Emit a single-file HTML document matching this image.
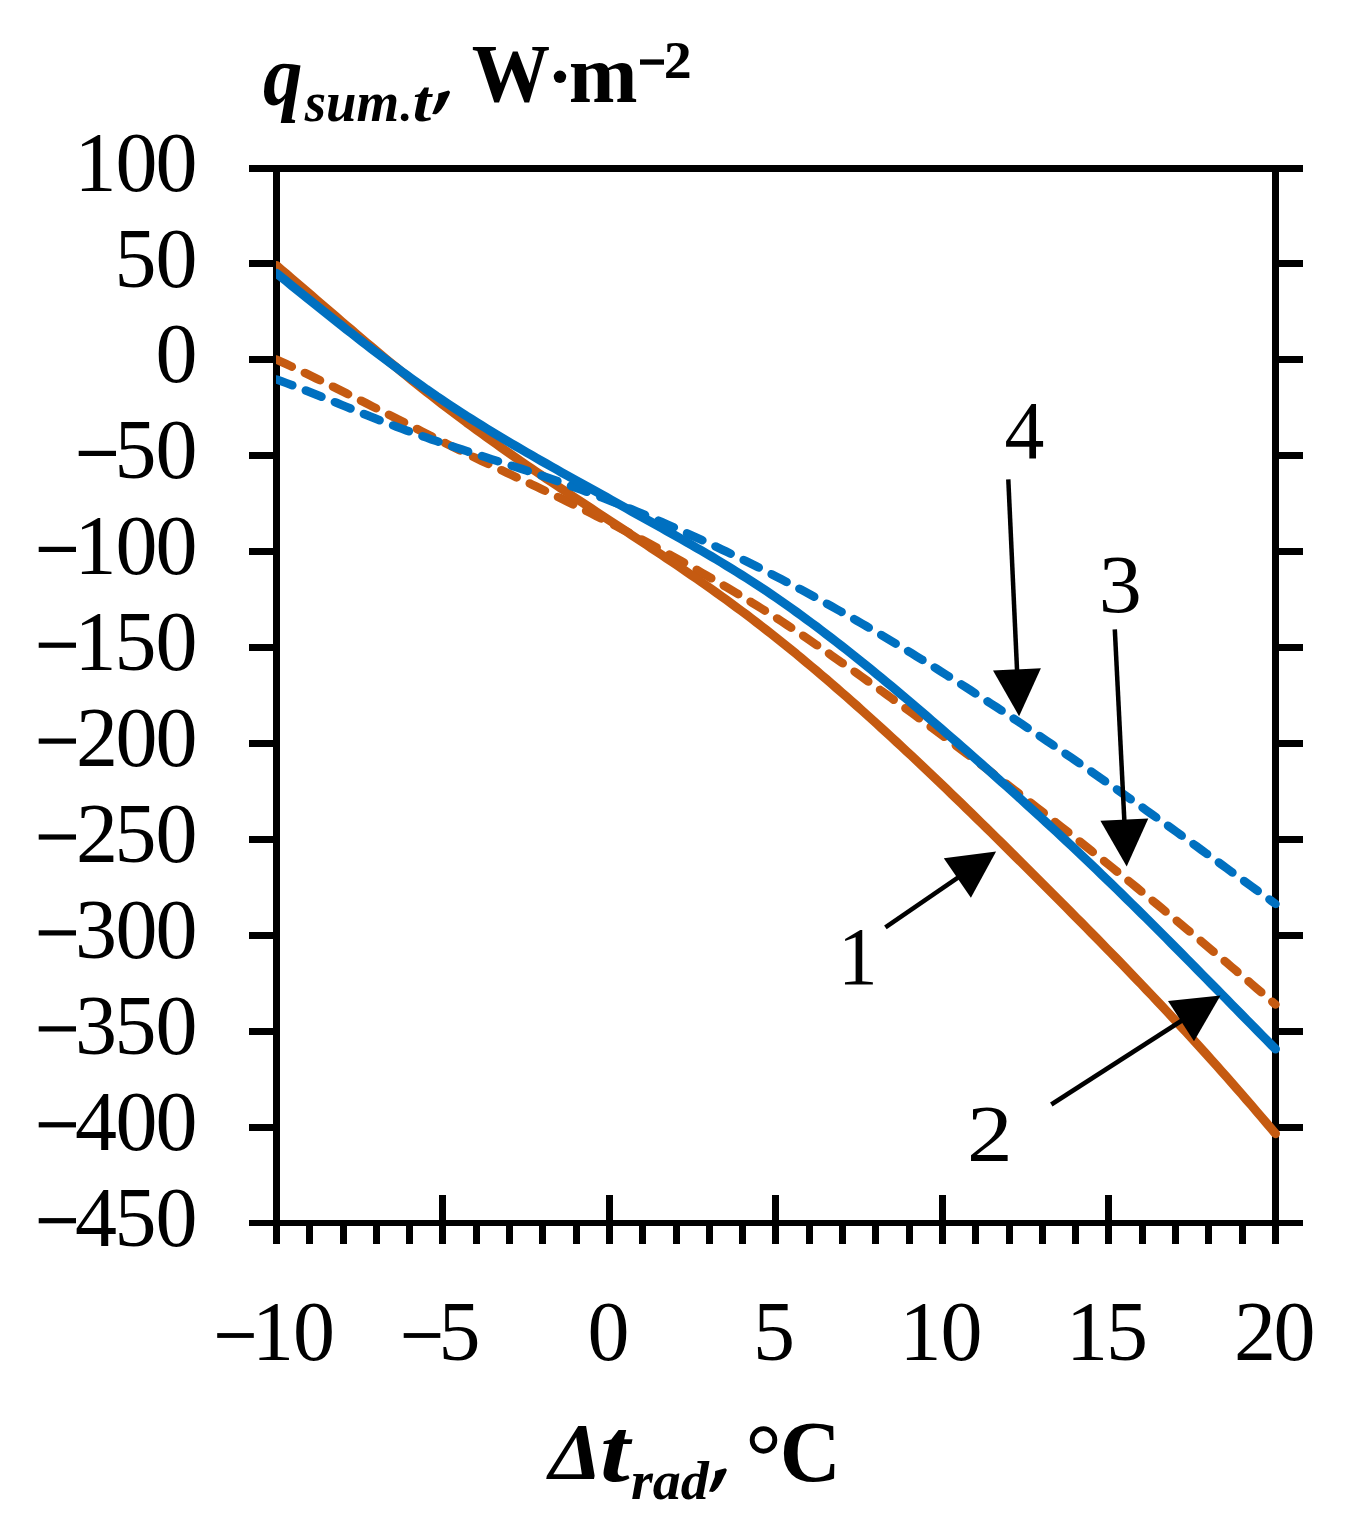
<!DOCTYPE html><html><head><meta charset="utf-8"><style>html,body{margin:0;padding:0;background:#fff;width:1349px;height:1518px;overflow:hidden}svg{display:block}text{font-family:"Liberation Serif",serif}</style></head><body>
<svg width="1349" height="1518" viewBox="0 0 1349 1518">
<rect width="1349" height="1518" fill="#fff"/>
<defs><clipPath id="pc"><rect x="276" y="100" width="1020" height="1200"/></clipPath></defs>
<g fill="#000">
<rect x="273" y="165" width="7" height="1079"/>
<rect x="1272" y="165" width="7" height="1079"/>
<rect x="249" y="165" width="1054" height="7"/>
<rect x="249" y="1220" width="1054" height="6"/>
<rect x="249" y="260" width="24" height="7"/>
<rect x="1279" y="260" width="24" height="7"/>
<rect x="249" y="356" width="24" height="7"/>
<rect x="1279" y="356" width="24" height="7"/>
<rect x="249" y="452" width="24" height="7"/>
<rect x="1279" y="452" width="24" height="7"/>
<rect x="249" y="548" width="24" height="7"/>
<rect x="1279" y="548" width="24" height="7"/>
<rect x="249" y="644" width="24" height="7"/>
<rect x="1279" y="644" width="24" height="7"/>
<rect x="249" y="740" width="24" height="7"/>
<rect x="1279" y="740" width="24" height="7"/>
<rect x="249" y="836" width="24" height="7"/>
<rect x="1279" y="836" width="24" height="7"/>
<rect x="249" y="932" width="24" height="7"/>
<rect x="1279" y="932" width="24" height="7"/>
<rect x="249" y="1028" width="24" height="7"/>
<rect x="1279" y="1028" width="24" height="7"/>
<rect x="249" y="1124" width="24" height="7"/>
<rect x="1279" y="1124" width="24" height="7"/>
<rect x="306" y="1226" width="7" height="18"/>
<rect x="340" y="1226" width="7" height="18"/>
<rect x="373" y="1226" width="7" height="18"/>
<rect x="406" y="1226" width="7" height="18"/>
<rect x="439" y="1195" width="7" height="49"/>
<rect x="473" y="1226" width="7" height="18"/>
<rect x="506" y="1226" width="7" height="18"/>
<rect x="539" y="1226" width="7" height="18"/>
<rect x="573" y="1226" width="7" height="18"/>
<rect x="606" y="1195" width="7" height="49"/>
<rect x="639" y="1226" width="7" height="18"/>
<rect x="673" y="1226" width="7" height="18"/>
<rect x="706" y="1226" width="7" height="18"/>
<rect x="739" y="1226" width="7" height="18"/>
<rect x="772" y="1195" width="7" height="49"/>
<rect x="806" y="1226" width="7" height="18"/>
<rect x="839" y="1226" width="7" height="18"/>
<rect x="872" y="1226" width="7" height="18"/>
<rect x="906" y="1226" width="7" height="18"/>
<rect x="939" y="1195" width="7" height="49"/>
<rect x="972" y="1226" width="7" height="18"/>
<rect x="1006" y="1226" width="7" height="18"/>
<rect x="1039" y="1226" width="7" height="18"/>
<rect x="1072" y="1226" width="7" height="18"/>
<rect x="1105" y="1195" width="7" height="49"/>
<rect x="1139" y="1226" width="7" height="18"/>
<rect x="1172" y="1226" width="7" height="18"/>
<rect x="1205" y="1226" width="7" height="18"/>
<rect x="1239" y="1226" width="7" height="18"/>
</g>
<g clip-path="url(#pc)" fill="none" stroke-width="8.5" stroke-linecap="round" stroke-linejoin="round">
<polyline points="276.5,359.5 281.5,361.8 286.5,364.2 291.5,366.5 296.5,368.9 301.5,371.3 306.5,373.7 311.5,376.1 316.5,378.6 321.5,381.0 326.5,383.5 331.5,385.9 336.5,388.4 341.5,390.9 346.5,393.4 351.5,395.9 356.5,398.4 361.5,400.9 366.5,403.4 371.5,406.0 376.5,408.5 381.5,411.0 386.5,413.5 391.5,416.1 396.5,418.6 401.5,421.1 406.5,423.6 411.5,426.2 416.5,428.7 421.5,431.2 426.5,433.7 431.5,436.2 436.5,438.7 441.5,441.2 446.5,443.7 451.5,446.2 456.5,448.7 461.5,451.1 466.5,453.5 471.5,456.0 476.5,458.4 481.5,460.8 486.5,463.1 491.5,465.5 496.5,467.9 501.5,470.2 506.5,472.6 511.5,474.9 516.5,477.3 521.5,479.6 526.5,482.0 531.5,484.3 536.5,486.7 541.5,489.1 546.5,491.5 551.5,493.9 556.5,496.3 561.5,498.7 566.5,501.2 571.5,503.6 576.5,506.1 581.5,508.6 586.5,511.0 591.5,513.6 596.5,516.1 601.5,518.6 606.5,521.2 611.5,523.7 616.5,526.3 621.5,528.9 626.5,531.5 631.5,534.1 636.5,536.8 641.5,539.4 646.5,542.1 651.5,544.8 656.5,547.5 661.5,550.2 666.5,552.9 671.5,555.7 676.5,558.5 681.5,561.3 686.5,564.1 691.5,566.9 696.5,569.7 701.5,572.6 706.5,575.5 711.5,578.4 716.5,581.3 721.5,584.2 726.5,587.2 731.5,590.2 736.5,593.1 741.5,596.2 746.5,599.2 751.5,602.3 756.5,605.4 761.5,608.5 766.5,611.6 771.5,614.8 776.5,618.0 781.5,621.3 786.5,624.6 791.5,627.9 796.5,631.3 801.5,634.6 806.5,638.1 811.5,641.5 816.5,644.9 821.5,648.4 826.5,651.9 831.5,655.4 836.5,658.9 841.5,662.4 846.5,666.0 851.5,669.5 856.5,673.0 861.5,676.6 866.5,680.2 871.5,683.7 876.5,687.3 881.5,690.9 886.5,694.5 891.5,698.1 896.5,701.8 901.5,705.4 906.5,709.0 911.5,712.7 916.5,716.4 921.5,720.0 926.5,723.7 931.5,727.4 936.5,731.1 941.5,734.8 946.5,738.6 951.5,742.3 956.5,746.0 961.5,749.8 966.5,753.6 971.5,757.3 976.5,761.1 981.5,764.9 986.5,768.7 991.5,772.5 996.5,776.4 1001.5,780.2 1006.5,784.0 1011.5,787.9 1016.5,791.7 1021.5,795.6 1026.5,799.5 1031.5,803.4 1036.5,807.3 1041.5,811.2 1046.5,815.1 1051.5,819.1 1056.5,823.0 1061.5,827.0 1066.5,830.9 1071.5,834.9 1076.5,838.9 1081.5,842.9 1086.5,846.9 1091.5,850.9 1096.5,854.9 1101.5,858.9 1106.5,863.0 1111.5,867.0 1116.5,871.1 1121.5,875.2 1126.5,879.3 1131.5,883.3 1136.5,887.4 1141.5,891.6 1146.5,895.7 1151.5,899.8 1156.5,903.9 1161.5,908.1 1166.5,912.2 1171.5,916.4 1176.5,920.5 1181.5,924.7 1186.5,928.9 1191.5,933.1 1196.5,937.3 1201.5,941.5 1206.5,945.7 1211.5,949.9 1216.5,954.1 1221.5,958.4 1226.5,962.6 1231.5,966.9 1236.5,971.1 1241.5,975.4 1246.5,979.6 1251.5,983.9 1256.5,988.2 1261.5,992.5 1266.5,996.8 1271.5,1001.1 1275.5,1004.5" stroke="#C55A11" stroke-dasharray="16.9 14.43"/>
<polyline points="276.5,265.5 281.5,269.8 286.5,274.0 291.5,278.3 296.5,282.6 301.5,286.9 306.5,291.2 311.5,295.5 316.5,299.8 321.5,304.1 326.5,308.4 331.5,312.7 336.5,317.0 341.5,321.3 346.5,325.6 351.5,329.8 356.5,334.1 361.5,338.4 366.5,342.6 371.5,346.8 376.5,351.0 381.5,355.2 386.5,359.4 391.5,363.5 396.5,367.6 401.5,371.7 406.5,375.8 411.5,379.9 416.5,383.9 421.5,387.9 426.5,391.9 431.5,395.8 436.5,399.7 441.5,403.6 446.5,407.4 451.5,411.2 456.5,415.0 461.5,418.7 466.5,422.5 471.5,426.1 476.5,429.8 481.5,433.4 486.5,437.0 491.5,440.6 496.5,444.2 501.5,447.7 506.5,451.2 511.5,454.7 516.5,458.2 521.5,461.6 526.5,465.1 531.5,468.5 536.5,471.9 541.5,475.3 546.5,478.7 551.5,482.0 556.5,485.4 561.5,488.7 566.5,492.0 571.5,495.4 576.5,498.7 581.5,502.0 586.5,505.3 591.5,508.6 596.5,511.9 601.5,515.2 606.5,518.5 611.5,521.7 616.5,525.0 621.5,528.3 626.5,531.6 631.5,534.9 636.5,538.2 641.5,541.5 646.5,544.8 651.5,548.2 656.5,551.5 661.5,554.8 666.5,558.2 671.5,561.5 676.5,564.9 681.5,568.3 686.5,571.8 691.5,575.2 696.5,578.6 701.5,582.1 706.5,585.6 711.5,589.2 716.5,592.7 721.5,596.3 726.5,599.9 731.5,603.6 736.5,607.3 741.5,611.0 746.5,614.7 751.5,618.5 756.5,622.3 761.5,626.2 766.5,630.1 771.5,634.0 776.5,638.0 781.5,642.0 786.5,646.0 791.5,650.1 796.5,654.1 801.5,658.3 806.5,662.4 811.5,666.6 816.5,670.8 821.5,675.1 826.5,679.3 831.5,683.6 836.5,688.0 841.5,692.3 846.5,696.7 851.5,701.1 856.5,705.5 861.5,710.0 866.5,714.5 871.5,719.0 876.5,723.5 881.5,728.1 886.5,732.6 891.5,737.2 896.5,741.9 901.5,746.5 906.5,751.2 911.5,755.8 916.5,760.5 921.5,765.3 926.5,770.0 931.5,774.7 936.5,779.5 941.5,784.3 946.5,789.1 951.5,793.9 956.5,798.8 961.5,803.6 966.5,808.5 971.5,813.3 976.5,818.2 981.5,823.1 986.5,828.0 991.5,832.9 996.5,837.9 1001.5,842.8 1006.5,847.8 1011.5,852.7 1016.5,857.7 1021.5,862.6 1026.5,867.6 1031.5,872.6 1036.5,877.6 1041.5,882.6 1046.5,887.6 1051.5,892.6 1056.5,897.6 1061.5,902.6 1066.5,907.7 1071.5,912.7 1076.5,917.8 1081.5,922.8 1086.5,927.9 1091.5,933.0 1096.5,938.0 1101.5,943.2 1106.5,948.3 1111.5,953.4 1116.5,958.5 1121.5,963.7 1126.5,968.9 1131.5,974.1 1136.5,979.3 1141.5,984.5 1146.5,989.8 1151.5,995.0 1156.5,1000.3 1161.5,1005.6 1166.5,1011.0 1171.5,1016.3 1176.5,1021.7 1181.5,1027.1 1186.5,1032.5 1191.5,1037.9 1196.5,1043.4 1201.5,1048.9 1206.5,1054.4 1211.5,1060.0 1216.5,1065.6 1221.5,1071.2 1226.5,1076.8 1231.5,1082.5 1236.5,1088.2 1241.5,1093.9 1246.5,1099.7 1251.5,1105.4 1256.5,1111.3 1261.5,1117.1 1266.5,1123.0 1271.5,1128.9 1275.5,1133.7" stroke="#C55A11" stroke-width="9.0"/>
<polyline points="276.5,379.4 281.5,381.2 286.5,383.1 291.5,385.0 296.5,386.9 301.5,388.8 306.5,390.8 311.5,392.8 316.5,394.8 321.5,396.8 326.5,398.8 331.5,400.8 336.5,402.8 341.5,404.9 346.5,406.9 351.5,408.9 356.5,411.0 361.5,413.0 366.5,415.0 371.5,417.0 376.5,419.0 381.5,421.0 386.5,422.9 391.5,424.8 396.5,426.7 401.5,428.6 406.5,430.5 411.5,432.3 416.5,434.1 421.5,435.9 426.5,437.6 431.5,439.4 436.5,441.1 441.5,442.8 446.5,444.5 451.5,446.1 456.5,447.8 461.5,449.4 466.5,451.1 471.5,452.7 476.5,454.3 481.5,455.9 486.5,457.5 491.5,459.2 496.5,460.8 501.5,462.4 506.5,464.0 511.5,465.6 516.5,467.3 521.5,468.9 526.5,470.6 531.5,472.2 536.5,473.9 541.5,475.6 546.5,477.3 551.5,479.0 556.5,480.8 561.5,482.6 566.5,484.3 571.5,486.2 576.5,488.0 581.5,489.8 586.5,491.7 591.5,493.6 596.5,495.5 601.5,497.4 606.5,499.3 611.5,501.3 616.5,503.3 621.5,505.3 626.5,507.3 631.5,509.3 636.5,511.4 641.5,513.5 646.5,515.6 651.5,517.7 656.5,519.8 661.5,522.0 666.5,524.1 671.5,526.3 676.5,528.5 681.5,530.8 686.5,533.0 691.5,535.3 696.5,537.6 701.5,539.9 706.5,542.2 711.5,544.5 716.5,546.9 721.5,549.3 726.5,551.7 731.5,554.1 736.5,556.5 741.5,559.0 746.5,561.4 751.5,563.9 756.5,566.4 761.5,569.0 766.5,571.5 771.5,574.1 776.5,576.7 781.5,579.3 786.5,581.9 791.5,584.5 796.5,587.2 801.5,589.8 806.5,592.5 811.5,595.3 816.5,598.0 821.5,600.7 826.5,603.5 831.5,606.3 836.5,609.1 841.5,611.9 846.5,614.8 851.5,617.6 856.5,620.5 861.5,623.4 866.5,626.3 871.5,629.2 876.5,632.1 881.5,635.1 886.5,638.1 891.5,641.1 896.5,644.1 901.5,647.1 906.5,650.1 911.5,653.2 916.5,656.3 921.5,659.3 926.5,662.4 931.5,665.5 936.5,668.7 941.5,671.8 946.5,675.0 951.5,678.1 956.5,681.3 961.5,684.5 966.5,687.7 971.5,690.9 976.5,694.2 981.5,697.4 986.5,700.7 991.5,704.0 996.5,707.2 1001.5,710.5 1006.5,713.8 1011.5,717.2 1016.5,720.5 1021.5,723.8 1026.5,727.2 1031.5,730.5 1036.5,733.9 1041.5,737.3 1046.5,740.7 1051.5,744.1 1056.5,747.5 1061.5,750.9 1066.5,754.4 1071.5,757.8 1076.5,761.3 1081.5,764.7 1086.5,768.2 1091.5,771.7 1096.5,775.2 1101.5,778.7 1106.5,782.2 1111.5,785.7 1116.5,789.2 1121.5,792.7 1126.5,796.2 1131.5,799.8 1136.5,803.3 1141.5,806.9 1146.5,810.4 1151.5,814.0 1156.5,817.6 1161.5,821.2 1166.5,824.7 1171.5,828.3 1176.5,831.9 1181.5,835.5 1186.5,839.1 1191.5,842.7 1196.5,846.3 1201.5,850.0 1206.5,853.6 1211.5,857.2 1216.5,860.8 1221.5,864.5 1226.5,868.1 1231.5,871.8 1236.5,875.4 1241.5,879.1 1246.5,882.7 1251.5,886.4 1256.5,890.0 1261.5,893.7 1266.5,897.3 1271.5,901.0 1275.5,903.9" stroke="#0070C0" stroke-dasharray="16.9 14.43"/>
<polyline points="276.5,273.3 281.5,277.3 286.5,281.3 291.5,285.4 296.5,289.4 301.5,293.4 306.5,297.5 311.5,301.5 316.5,305.5 321.5,309.5 326.5,313.5 331.5,317.5 336.5,321.5 341.5,325.4 346.5,329.4 351.5,333.3 356.5,337.2 361.5,341.1 366.5,345.0 371.5,348.8 376.5,352.6 381.5,356.4 386.5,360.2 391.5,364.0 396.5,367.7 401.5,371.4 406.5,375.0 411.5,378.6 416.5,382.2 421.5,385.7 426.5,389.3 431.5,392.7 436.5,396.2 441.5,399.5 446.5,402.9 451.5,406.2 456.5,409.5 461.5,412.7 466.5,416.0 471.5,419.1 476.5,422.3 481.5,425.4 486.5,428.5 491.5,431.6 496.5,434.6 501.5,437.6 506.5,440.6 511.5,443.6 516.5,446.5 521.5,449.4 526.5,452.3 531.5,455.2 536.5,458.1 541.5,461.0 546.5,463.8 551.5,466.6 556.5,469.4 561.5,472.3 566.5,475.1 571.5,477.9 576.5,480.6 581.5,483.4 586.5,486.2 591.5,489.0 596.5,491.8 601.5,494.5 606.5,497.3 611.5,500.1 616.5,502.9 621.5,505.6 626.5,508.4 631.5,511.2 636.5,514.0 641.5,516.7 646.5,519.5 651.5,522.3 656.5,525.1 661.5,527.9 666.5,530.7 671.5,533.5 676.5,536.3 681.5,539.2 686.5,542.0 691.5,544.9 696.5,547.8 701.5,550.7 706.5,553.6 711.5,556.5 716.5,559.5 721.5,562.5 726.5,565.6 731.5,568.6 736.5,571.7 741.5,574.9 746.5,578.0 751.5,581.2 756.5,584.5 761.5,587.8 766.5,591.1 771.5,594.5 776.5,597.9 781.5,601.4 786.5,604.9 791.5,608.4 796.5,612.0 801.5,615.6 806.5,619.3 811.5,623.0 816.5,626.7 821.5,630.5 826.5,634.3 831.5,638.1 836.5,642.0 841.5,645.9 846.5,649.8 851.5,653.7 856.5,657.7 861.5,661.7 866.5,665.8 871.5,669.8 876.5,673.9 881.5,678.0 886.5,682.2 891.5,686.3 896.5,690.5 901.5,694.7 906.5,698.9 911.5,703.2 916.5,707.4 921.5,711.7 926.5,716.0 931.5,720.3 936.5,724.6 941.5,728.9 946.5,733.3 951.5,737.6 956.5,742.0 961.5,746.4 966.5,750.7 971.5,755.1 976.5,759.6 981.5,764.0 986.5,768.4 991.5,772.8 996.5,777.3 1001.5,781.8 1006.5,786.2 1011.5,790.7 1016.5,795.2 1021.5,799.8 1026.5,804.3 1031.5,808.8 1036.5,813.4 1041.5,818.0 1046.5,822.6 1051.5,827.2 1056.5,831.8 1061.5,836.5 1066.5,841.1 1071.5,845.8 1076.5,850.5 1081.5,855.3 1086.5,860.0 1091.5,864.8 1096.5,869.6 1101.5,874.4 1106.5,879.2 1111.5,884.0 1116.5,888.9 1121.5,893.8 1126.5,898.7 1131.5,903.6 1136.5,908.5 1141.5,913.5 1146.5,918.4 1151.5,923.4 1156.5,928.4 1161.5,933.4 1166.5,938.4 1171.5,943.5 1176.5,948.5 1181.5,953.5 1186.5,958.6 1191.5,963.7 1196.5,968.7 1201.5,973.8 1206.5,978.9 1211.5,984.0 1216.5,989.0 1221.5,994.1 1226.5,999.2 1231.5,1004.3 1236.5,1009.4 1241.5,1014.5 1246.5,1019.6 1251.5,1024.7 1256.5,1029.7 1261.5,1034.8 1266.5,1039.9 1271.5,1045.0 1275.5,1049.0" stroke="#0070C0" stroke-width="9.0"/>
</g>
<line x1="1008.3" y1="479.3" x2="1017.1" y2="671.3" stroke="#000" stroke-width="4.5"/>
<polygon points="1019.1,716.3 993.0,670.4 1040.9,668.3" fill="#000"/>
<line x1="1114.8" y1="629.3" x2="1124.4" y2="821.6" stroke="#000" stroke-width="4.5"/>
<polygon points="1126.7,866.5 1100.4,820.8 1148.3,818.4" fill="#000"/>
<line x1="885.4" y1="927.4" x2="959.0" y2="876.9" stroke="#000" stroke-width="4.5"/>
<polygon points="996.1,851.4 970.9,897.8 943.8,858.2" fill="#000"/>
<line x1="1051.3" y1="1104.5" x2="1182.7" y2="1020.0" stroke="#000" stroke-width="4.5"/>
<polygon points="1220.5,995.6 1194.0,1041.2 1168.0,1000.9" fill="#000"/>
<g fill="#000">
<rect x="78.7" y="450.8" width="37.3" height="5.2"/>
<rect x="38.7" y="546.8" width="37.3" height="5.2"/>
<rect x="38.7" y="642.6" width="37.3" height="5.2"/>
<rect x="38.7" y="738.5" width="37.3" height="5.2"/>
<rect x="38.7" y="834.4" width="37.3" height="5.2"/>
<rect x="38.7" y="930.3" width="37.3" height="5.2"/>
<rect x="38.7" y="1026.3" width="37.3" height="5.2"/>
<rect x="38.7" y="1122.2" width="37.3" height="5.2"/>
<rect x="38.7" y="1218.1" width="37.3" height="5.2"/>
<rect x="217.2" y="1333.1" width="36.6" height="4.8"/>
<rect x="403.7" y="1333.1" width="36.6" height="4.8"/>
<circle cx="559.95" cy="76.8" r="6.2"/>
<rect x="640" y="59.4" width="24" height="5.3"/>
<circle cx="404.65" cy="117.35" r="3.8"/>
<polygon points="715.2,1471.1 725.3,1468.2 726.9,1469.8 725.8,1472.9 723.7,1476.9 721.1,1482.4 717.9,1487.4 714.8,1490.7 712.7,1491.9 709.0,1491.6 711.1,1486.4 713.2,1481.1 714.8,1476.9"/>
<polygon points="438.4,93.4 448.5,90.5 450.1,92.1 449.0,95.2 446.9,99.2 444.3,104.7 441.1,109.7 438.0,113.0 435.9,114.2 432.2,113.9 434.3,108.7 436.4,103.4 438.0,99.2"/>
</g>
<circle cx="763.5" cy="1439.9" r="11.3" fill="none" stroke="#000" stroke-width="4.9"/>
<g>
</g>
<text x="74.60" y="190.60" font-size="84">1</text>
<text x="115.60" y="190.60" font-size="84">0</text>
<text x="155.60" y="190.60" font-size="84">0</text>
<text x="114.60" y="286.50" font-size="84">5</text>
<text x="155.60" y="286.50" font-size="84">0</text>
<text x="155.60" y="382.40" font-size="84">0</text>
<text x="114.60" y="478.30" font-size="84">5</text>
<text x="155.60" y="478.30" font-size="84">0</text>
<text x="74.60" y="574.20" font-size="84">1</text>
<text x="115.60" y="574.20" font-size="84">0</text>
<text x="155.60" y="574.20" font-size="84">0</text>
<text x="74.60" y="670.10" font-size="84">1</text>
<text x="114.60" y="670.10" font-size="84">5</text>
<text x="155.60" y="670.10" font-size="84">0</text>
<text x="76.10" y="766.00" font-size="84">2</text>
<text x="115.60" y="766.00" font-size="84">0</text>
<text x="155.60" y="766.00" font-size="84">0</text>
<text x="76.10" y="861.90" font-size="84">2</text>
<text x="114.60" y="861.90" font-size="84">5</text>
<text x="155.60" y="861.90" font-size="84">0</text>
<text x="75.10" y="957.80" font-size="84">3</text>
<text x="115.60" y="957.80" font-size="84">0</text>
<text x="155.60" y="957.80" font-size="84">0</text>
<text x="75.10" y="1053.70" font-size="84">3</text>
<text x="114.60" y="1053.70" font-size="84">5</text>
<text x="155.60" y="1053.70" font-size="84">0</text>
<text x="75.10" y="1149.60" font-size="84">4</text>
<text x="115.60" y="1149.60" font-size="84">0</text>
<text x="155.60" y="1149.60" font-size="84">0</text>
<text x="75.10" y="1245.50" font-size="84">4</text>
<text x="114.60" y="1245.50" font-size="84">5</text>
<text x="155.60" y="1245.50" font-size="84">0</text>
<text x="252.05" y="1360.35" font-size="84">1</text>
<text x="293.05" y="1360.35" font-size="84">0</text>
<text x="438.55" y="1360.35" font-size="84">5</text>
<text x="587.50" y="1360.35" font-size="84">0</text>
<text x="753.00" y="1360.35" font-size="84">5</text>
<text x="899.50" y="1360.35" font-size="84">1</text>
<text x="940.50" y="1360.35" font-size="84">0</text>
<text x="1066.00" y="1360.35" font-size="84">1</text>
<text x="1106.00" y="1360.35" font-size="84">5</text>
<text x="1234.00" y="1360.35" font-size="84">2</text>
<text x="1273.50" y="1360.35" font-size="84">0</text>
<text transform="matrix(0.9433 0 0 0.9768 838.10 983.70)" font-size="84">1</text>
<text transform="matrix(1.0879 0 0 0.9643 967.05 1161.00)" font-size="84">2</text>
<text transform="matrix(1.0257 0 0 0.9911 1098.70 612.00)" font-size="84">3</text>
<text transform="matrix(0.9487 0 0 0.9714 1004.60 458.30)" font-size="84">4</text>
<text transform="matrix(0.9410 0 0 1.0259 263.06 103.73)" font-size="84" font-weight="bold" font-style="italic">q</text>
<text transform="matrix(0.9787 0 0 1.0038 304.70 120.90)" font-size="56" font-weight="bold" font-style="italic">sum</text>
<text transform="matrix(1.1867 0 0 1.0563 412.63 120.90)" font-size="56" font-weight="bold" font-style="italic">t</text>
<text transform="matrix(0.9329 0 0 0.9754 471.87 101.02)" font-size="84" font-weight="bold">W</text>
<text transform="matrix(0.9836 0 0 0.9775 568.63 102.00)" font-size="84" font-weight="bold">m</text>
<text transform="matrix(1.0000 0 0 0.9368 663.80 77.70)" font-size="56" font-weight="bold">2</text>
<text transform="matrix(1.0042 0 0 0.9661 548.91 1478.90)" font-size="84" font-weight="bold" font-style="italic">&#916;</text>
<text transform="matrix(1.2773 0 0 1.0917 599.97 1480.90)" font-size="84" font-weight="bold" font-style="italic">t</text>
<text transform="matrix(1.0013 0 0 0.9650 630.90 1499.00)" font-size="56" font-weight="bold" font-style="italic">rad</text>
<text transform="matrix(1.0060 0 0 1.0250 779.78 1481.20)" font-size="84" font-weight="bold">C</text>
</svg></body></html>
